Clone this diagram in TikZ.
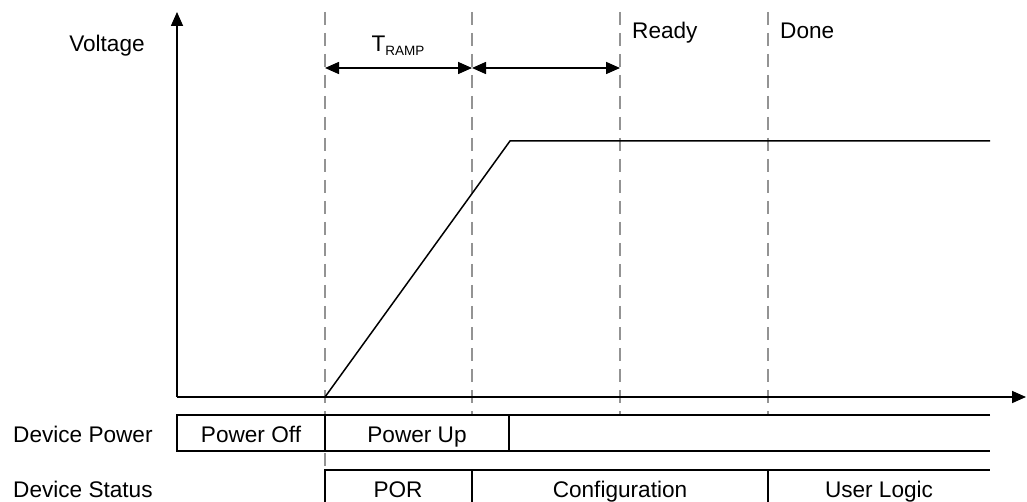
\documentclass[tikz,border=0pt]{standalone}
\usepackage{fontspec}
\setmainfont{Liberation Sans}
\usetikzlibrary{arrows.meta, positioning}
\tikzset{lbl/.style={font=\fontsize{22.6}{26}\selectfont,inner sep=0pt},axis/.style={line width=1.6pt,-{Triangle[length=14pt,width=12pt]}},span/.style={line width=1.6pt,{Triangle[length=14pt,width=12pt]}-{Triangle[length=14pt,width=12pt]}},marker/.style={gray!85,line width=1.5pt,dash pattern=on 13pt off 8pt},wire/.style={line width=1.5pt}}

\begin{document}
\begin{tikzpicture}[x=1pt,y=-1pt]
\useasboundingbox (0,0) rectangle (1027,502);
% axes
\coordinate (orig) at (177,397);
\coordinate (ytip) at (177,12);
\coordinate (xtip) at (1026,397);
% phase markers
\coordinate (ramp0) at (325,12);
\coordinate (ramp1) at (472,12);
\coordinate (ready) at (620,12);
\coordinate (done) at (768,12);
\draw[marker] (ramp0) -- (325,470);
\draw[marker] (ramp1) -- (472,415);
\draw[marker] (ready) -- (620,415);
\draw[marker] (done) -- (768,415);
\draw[axis] (orig) -- (ytip);
\draw[axis] (orig) -- (xtip);
% voltage curve
\coordinate (vstart) at (325,397);
\coordinate (vknee) at (510,141);
\coordinate (vend) at (990,141);
\draw[wire] (vstart) -- (vknee) -- (vend);
% spans
\coordinate (s0) at (325,68);
\coordinate (s1) at (472,68);
\coordinate (s2) at (620,68);
\draw[span] (s0) -- (s1);
\draw[span] (s1) -- (s2);
\node[lbl, anchor=base] (volt) at (107,52) {Voltage};
\node[lbl, anchor=base] (tramp) at (398,52) {T\raisebox{-4pt}{\fontsize{13.5}{15}\selectfont RAMP}};
\node[lbl, anchor=base west] (rdy) at (632,39) {Ready};
\node[lbl, anchor=base west] (dne) at (780,39) {Done};
% device power row
\draw[wire] (990,415) -- (177,415) -- (177,451) -- (990,451);
\draw[wire] (325,415) -- (325,451);
\draw[wire] (509,415) -- (509,451);
\node[lbl, anchor=base west] (pwr) at (13,442) {Device Power};
\node[lbl, anchor=base] (poff) at (251,442) {Power Off};
\node[lbl, anchor=base] (pup) at (417,442) {Power Up};
% device status row
\draw[wire] (325,502) -- (325,470) -- (990,470);
\draw[wire] (472,470) -- (472,502);
\draw[wire] (768,470) -- (768,502);
\node[lbl, anchor=base west] (stat) at (13,497) {Device Status};
\node[lbl, anchor=base] (por) at (398,497) {POR};
\node[lbl, anchor=base] (cfg) at (620,497) {Configuration};
\node[lbl, anchor=base] (usr) at (879,497) {User Logic};
\end{tikzpicture}
\end{document}
